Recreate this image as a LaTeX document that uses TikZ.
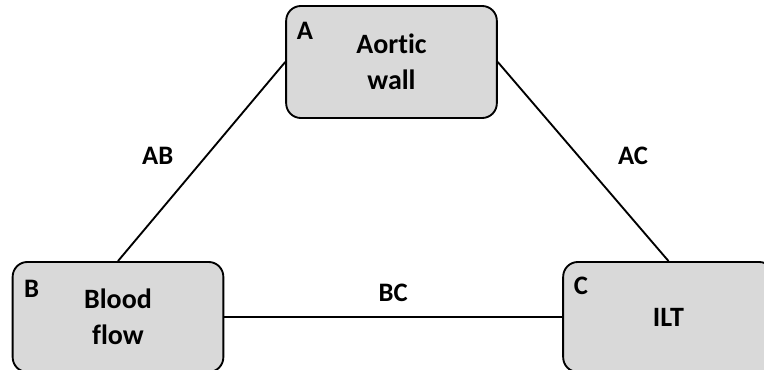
\documentclass[tikz,border=0pt]{standalone}
\usepackage{fontspec}
\setmainfont[Ligatures=NoCommon]{Carlito}
\usepackage{tikz}
\usetikzlibrary{arrows,positioning}

\begin{document}
\begin{tikzpicture}[x=0.75pt, y=-0.75pt, line width=1.4pt]
	\tikzstyle{all nodes}=[shape=rectangle]
	\tikzstyle{box}=[draw, rounded corners=11pt, fill={rgb,255:red,217;green,217;blue,217},
		align=center, minimum width=158pt, font=\fontsize{21}{27}\selectfont\bfseries]
	\tikzstyle{letter}=[inner sep=0pt, font=\fontsize{20}{24}\selectfont\bfseries]
	\tikzstyle{link}=[inner sep=0pt, font=\fontsize{20}{24}\selectfont\bfseries]
	\useasboundingbox[fill=white] (0,0) rectangle (764,370);
	% % Nodes
	% aortic wall
	\node[box, minimum height=84pt](aorta) at (391.5,62)
	{Aortic\\wall};
	\node[letter, below right=12.5pt and 8pt of aorta.north west](a) {A};
	% blood flow
	\node[box, minimum height=82.5pt](blood) at (118,317)
	{Blood\\flow};
	\node[letter, below right=13.5pt and 8.5pt of blood.north west](b) {B};
	% thrombus
	\node[box, minimum height=82.5pt](ilt) at (668.5,317)
	{ILT};
	\node[letter, below right=11.5pt and 8pt of ilt.north west](c) {C};
	% % Connectors
	\draw (aorta.west) -- node[link, midway, left=20.5pt, yshift=4.5pt]{AB} (blood.north);
	\draw (aorta.east) -- node[link, midway, right=25.5pt, yshift=4.5pt]{AC} (ilt.north);
	\draw (blood.east) -- node[link, midway, above=10.5pt]{BC} (ilt.west);
\end{tikzpicture}
\end{document}
